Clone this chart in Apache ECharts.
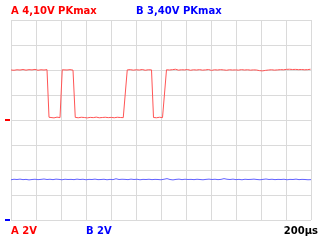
<!DOCTYPE html>
<html><head><meta charset="utf-8">
<script src="https://cdn.jsdelivr.net/npm/echarts@6/dist/echarts.min.js"></script>
<style>html,body{margin:0;padding:0;background:#fff}#c{width:320px;height:240px}</style>
</head><body><div id="c"></div>
<script>
// time in microseconds, values in volts
var redTime = [0,24,48,72,96,120,144,168,192,216,240,264,288,
  304,320,344,368,392,
  410,424,448,472,496,
  514,538,562,586,610,634,658,682,706,730,754,778,802,826,850,874,898,912,
  930,954,978,1002,1026,1050,1074,1098,1124,
  1140,1164,1188,1212,1228,
  1244,1268,1292,1316,1340,1364,1388,1412,1436,1460,
  1484,1508,1532,1556,1580,1604,1628,1652,1676,1700,
  1724,1748,1772,1796,1820,1844,1868,1892,1916,1940,
  1964,1988,2012,2036,2060,2084,2108,2132,2156,2180,
  2204,2228,2252,2276,2300,2324,2348,2372,2396];
var redVolts = [4.00,3.98,4.02,4.00,4.04,3.99,4.03,4.01,4.05,3.98,4.02,4.00,4.03,
  0.22,0.20,0.17,0.23,0.19,
  4.02,4.04,4.00,4.03,3.99,
  0.21,0.18,0.22,0.20,0.17,0.21,0.19,0.23,0.18,0.20,0.22,0.19,0.21,0.18,0.22,0.20,0.19,0.21,
  4.01,4.03,3.99,4.02,4.00,4.04,3.98,4.02,4.01,
  0.20,0.18,0.22,0.19,0.21,
  4.02,4.00,4.03,4.06,3.99,4.02,4.01,4.04,3.98,4.02,
  4.00,4.03,3.99,4.01,4.04,3.97,4.02,4.00,4.03,4.01,
  3.98,4.02,4.00,4.01,3.99,4.03,4.00,4.02,3.99,4.01,
  4.00,3.95,3.93,3.97,4.00,4.02,3.99,4.01,4.03,4.02,
  4.05,4.06,4.04,4.05,4.03,4.04,4.02,4.03,4.06];
var blueStep = 24;
var blueVolts = [3.22,3.26,3.24,3.27,3.23,3.25,3.21,3.24,3.26,3.23,
  3.25,3.28,3.24,3.26,3.23,3.27,3.25,3.22,3.26,3.24,
  3.25,3.23,3.27,3.24,3.26,3.22,3.25,3.24,3.27,3.23,
  3.24,3.26,3.22,3.25,3.23,3.30,3.24,3.26,3.25,3.23,
  3.27,3.24,3.26,3.22,3.25,3.24,3.26,3.23,3.25,3.24,
  3.22,3.26,3.31,3.24,3.21,3.25,3.27,3.23,3.26,3.24,
  3.25,3.23,3.26,3.24,3.22,3.25,3.27,3.24,3.26,3.23,
  3.25,3.31,3.26,3.24,3.27,3.23,3.25,3.22,3.26,3.24,
  3.25,3.27,3.24,3.22,3.25,3.28,3.24,3.26,3.23,3.25,
  3.24,3.26,3.22,3.25,3.24,3.27,3.23,3.25,3.24,3.22,
  3.23];
var titleA = "A 4,10V PKmax";
var titleB = "B 3,40V PKmax";
var scaleA = "A 2V";
var scaleB = "B 2V";
var timeScale = "200µs";

var redData = redTime.map(function(t,i){return [t, redVolts[i]];});
var blueData = blueVolts.map(function(v,i){return [i*blueStep, v];});
var gridColor = '#dadada';
var font = '"DejaVu Sans", sans-serif';
var chart = echarts.init(document.getElementById('c'), null, {renderer:'canvas'});
chart.setOption({
  animation:false,
  backgroundColor:'#fff',
  grid:{left:11, top:20, width:300, height:200},
  xAxis:{type:'value', min:0, max:2400, interval:200,
    axisLine:{show:false}, axisTick:{show:false}, axisLabel:{show:false},
    splitLine:{show:true, lineStyle:{color:gridColor, width:1}}},
  yAxis:[
    {type:'value', min:-8, max:8, interval:2,
     axisLine:{show:false}, axisTick:{show:false}, axisLabel:{show:false},
     splitLine:{show:true, lineStyle:{color:gridColor, width:1}}},
    {type:'value', min:0, max:16, interval:2,
     axisLine:{show:false}, axisTick:{show:false}, axisLabel:{show:false},
     splitLine:{show:false}}
  ],
  series:[
    {type:'line', yAxisIndex:0, data:redData, showSymbol:false, symbol:'none',
     lineStyle:{color:'#ff5555', width:1}, z:3,
     markPoint:{symbol:'rect', symbolSize:[5,2], symbolOffset:[-3.5,0], silent:true,
       itemStyle:{color:'#ff0000'}, label:{show:false}, data:[{coord:[0,0]}]}},
    {type:'line', yAxisIndex:1, data:blueData, showSymbol:false, symbol:'none',
     lineStyle:{color:'#6262ff', width:1}, z:3,
     markPoint:{symbol:'rect', symbolSize:[5,2], symbolOffset:[-3.5,0], silent:true,
       itemStyle:{color:'#0000ff'}, label:{show:false}, data:[{coord:[0,0]}]}}
  ],
  graphic:[
    {type:'text', left:11, top:6, style:{text:titleA, fill:'#ff0000', font:'bold 10px '+font}},
    {type:'text', left:136, top:6, style:{text:titleB, fill:'#0000ff', font:'bold 10px '+font}},
    {type:'text', left:11, top:226, style:{text:scaleA, fill:'#ff0000', font:'bold 10px '+font}},
    {type:'text', left:86, top:226, style:{text:scaleB, fill:'#0000ff', font:'bold 10px '+font}},
    {type:'text', right:2, top:226, style:{text:timeScale, fill:'#000000', font:'bold 10px '+font}}
  ]
});
</script></body></html>
